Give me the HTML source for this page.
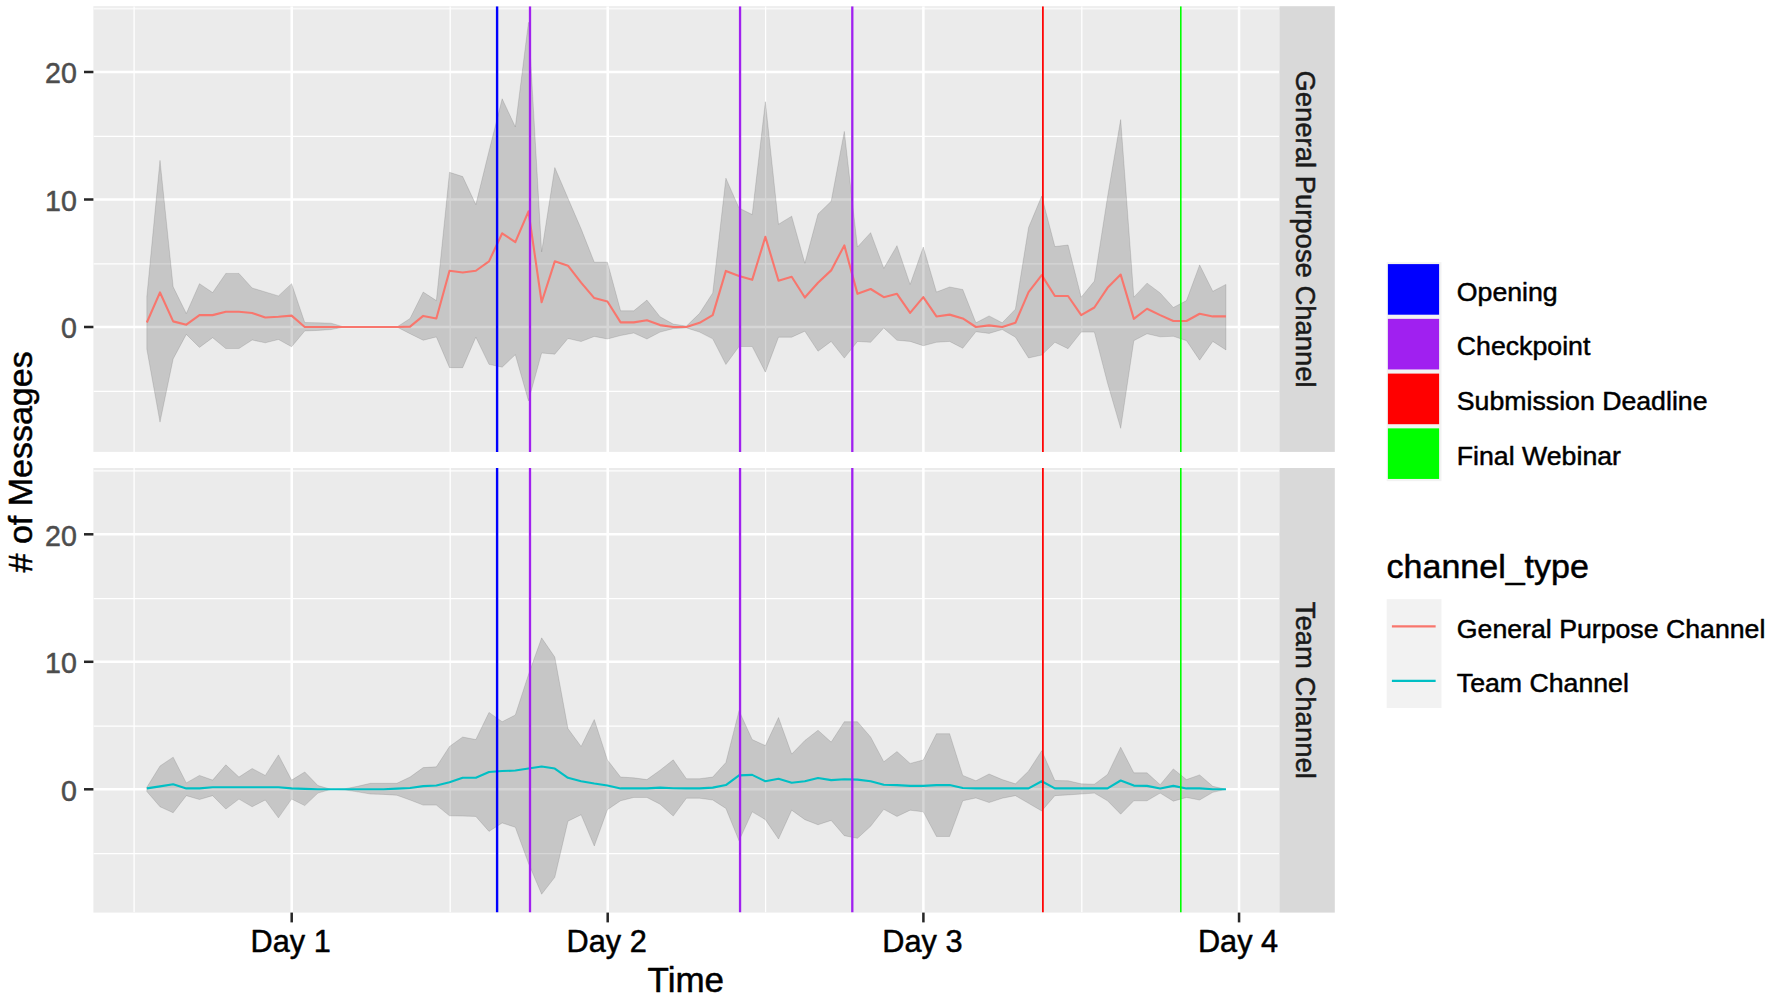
<!DOCTYPE html>
<html lang="en"><head><meta charset="utf-8"><title>Messages over time</title>
<style>html,body{margin:0;padding:0;background:#fff}body{width:1772px;height:999px;overflow:hidden}svg{display:block}</style>
</head><body>
<svg width="1772" height="999" viewBox="0 0 1772 999" font-family="Liberation Sans, Arial, sans-serif">
<style>text{stroke-width:0.5px;stroke-linejoin:round}text[fill="#000"]{stroke:#000}text[fill="#4D4D4D"]{stroke:#4D4D4D}text[fill="#1A1A1A"]{stroke:#1A1A1A}</style>
<rect width="1772" height="999" fill="#fff"/>
<clipPath id="c1"><rect x="93.4" y="6.2" width="1186" height="445.7"/></clipPath>
<rect x="93.4" y="6.2" width="1186" height="445.7" fill="#EBEBEB"/>
<g clip-path="url(#c1)">
<line x1="93.4" x2="1279.4" y1="8.65" y2="8.65" stroke="#fff" stroke-width="1.7" stroke-opacity="0.7"/>
<line x1="93.4" x2="1279.4" y1="136.35" y2="136.35" stroke="#fff" stroke-width="1.26"/>
<line x1="93.4" x2="1279.4" y1="263.85" y2="263.85" stroke="#fff" stroke-width="1.26"/>
<line x1="93.4" x2="1279.4" y1="391.35" y2="391.35" stroke="#fff" stroke-width="1.26"/>
<line x1="134.1" x2="134.1" y1="6.2" y2="451.9" stroke="#fff" stroke-width="1.26"/>
<line x1="450.2" x2="450.2" y1="6.2" y2="451.9" stroke="#fff" stroke-width="1.26"/>
<line x1="765.6" x2="765.6" y1="6.2" y2="451.9" stroke="#fff" stroke-width="1.26"/>
<line x1="1081.8" x2="1081.8" y1="6.2" y2="451.9" stroke="#fff" stroke-width="1.26"/>
<line x1="93.4" x2="1279.4" y1="72" y2="72" stroke="#fff" stroke-width="2.52"/>
<line x1="93.4" x2="1279.4" y1="199.5" y2="199.5" stroke="#fff" stroke-width="2.52"/>
<line x1="93.4" x2="1279.4" y1="327" y2="327" stroke="#fff" stroke-width="2.52"/>
<line x1="291.7" x2="291.7" y1="6.2" y2="451.9" stroke="#fff" stroke-width="2.52"/>
<line x1="607.7" x2="607.7" y1="6.2" y2="451.9" stroke="#fff" stroke-width="2.52"/>
<line x1="923.4" x2="923.4" y1="6.2" y2="451.9" stroke="#fff" stroke-width="2.52"/>
<line x1="1239.05" x2="1239.05" y1="6.2" y2="451.9" stroke="#fff" stroke-width="2.52"/>
<polygon points="146.84,296.4 160,160.36 173.16,286.84 186.32,313.49 199.48,283.65 212.64,292.57 225.8,273.45 238.96,273.45 252.12,287.99 265.28,291.94 278.44,295.89 291.6,283.65 304.76,322.54 317.92,322.79 331.08,323.18 344.24,327 357.4,327 370.56,327 383.72,327 396.88,327 410.04,318.46 423.2,292.06 436.36,300.61 449.52,172.34 462.68,176.55 475.84,204.6 489,151.05 502.16,98.78 515.32,126.83 528.48,22.28 541.64,251.77 554.8,167.62 567.96,198.22 581.12,228.82 594.28,262.23 607.44,262.23 620.6,310.81 633.76,310.81 646.92,300.1 660.08,316.8 673.24,324.07 686.4,326.11 699.56,313.36 712.72,292.96 725.88,178.21 739.04,208.04 752.2,214.55 765.36,101.71 778.52,224.24 791.68,216.2 804.84,263.25 818,214.04 831.16,201.29 844.32,131.41 857.48,247.06 870.64,232.65 883.8,268.35 896.96,245.66 910.12,284.42 923.28,247.06 936.44,292.06 949.6,286.96 962.76,289.51 975.92,322.79 989.08,315.91 1002.24,322.79 1015.4,309.15 1028.56,227.55 1041.72,196.06 1054.88,246.55 1068.04,245.02 1081.2,297.17 1094.36,281.1 1107.52,196.95 1120.68,119.56 1133.84,297.17 1147,283.14 1160.16,292.96 1173.32,307.49 1186.48,300.61 1199.64,264.91 1212.8,291.3 1225.96,284.42 1225.96,349.95 1212.8,341.41 1199.64,360.15 1186.48,340.64 1173.32,336.31 1160.16,336.82 1147,333.76 1133.84,340.64 1120.68,428.36 1107.52,383.1 1094.36,332.1 1081.2,332.1 1068.04,348.68 1054.88,342.3 1041.72,355.05 1028.56,357.98 1015.4,337.2 1002.24,329.55 989.08,333.38 975.92,331.72 962.76,348.29 949.6,341.41 936.44,342.3 923.28,345.74 910.12,341.41 896.96,340.26 883.8,327.89 870.64,342.3 857.48,341.41 844.32,358.11 831.16,341.41 818,351.23 804.84,331.21 791.68,337.2 778.52,337.2 765.36,372.13 752.2,346.51 739.04,346.51 725.88,364.49 712.72,338.86 699.56,332.1 686.4,327.89 673.24,328.66 660.08,332.1 646.92,338.99 633.76,332.99 620.6,335.54 607.44,338.99 594.28,336.44 581.12,341.54 567.96,338.48 554.8,354.16 541.64,353.01 528.48,400.95 515.32,354.67 502.16,367.16 489,364.36 475.84,337.2 462.68,367.67 449.52,367.67 436.36,336.94 423.2,340.26 410.04,333.76 396.88,327 383.72,327 370.56,327 357.4,327 344.24,327 331.08,329.55 317.92,330.44 304.76,330.95 291.6,346.76 278.44,339.5 265.28,342.81 252.12,340 238.96,348.55 225.8,348.55 212.64,337.71 199.48,347.4 186.32,334.39 173.16,358.88 160,422.12 146.84,349.31" fill="#333333" fill-opacity="0.2" stroke="#333333" stroke-opacity="0.14" stroke-width="1" stroke-linejoin="round"/>
<polyline points="146.84,322.54 160,292.45 173.16,321.39 186.32,324.7 199.48,315.14 212.64,315.14 225.8,311.7 238.96,311.7 252.12,312.98 265.28,317.56 278.44,316.8 291.6,315.65 304.76,327 317.92,327 331.08,327 344.24,327 357.4,327 370.56,327 383.72,327 396.88,327 410.04,326.62 423.2,315.91 436.36,318.46 449.52,270.77 462.68,272.43 475.84,270.77 489,261.34 502.16,233.29 515.32,242.08 528.48,211.36 541.64,302.26 554.8,261.34 567.96,265.67 581.12,282.63 594.28,298.06 607.44,301.5 620.6,322.41 633.76,322.41 646.92,320.24 660.08,325.09 673.24,327 686.4,327 699.56,322.79 712.72,315.14 725.88,270.9 739.04,276 752.2,279.82 765.36,236.86 778.52,280.72 791.68,276.76 804.84,297.55 818,282.76 831.16,270.39 844.32,245.4 857.48,293.85 870.64,289 883.8,297.17 896.96,293.85 910.12,312.85 923.28,297.17 936.44,316.42 949.6,314.63 962.76,318.46 975.92,327 989.08,325.34 1002.24,327 1015.4,322.79 1028.56,292.06 1041.72,275.11 1054.88,296.02 1068.04,296.02 1081.2,315.14 1094.36,307.49 1107.52,287.86 1120.68,274.6 1133.84,318.84 1147,308.77 1160.16,315.14 1173.32,321.01 1186.48,321.01 1199.64,313.74 1212.8,316.42 1225.96,316.42" fill="none" stroke="#F8766D" stroke-width="2.1" stroke-linejoin="round"/>
<line x1="497.1" x2="497.1" y1="6.2" y2="451.9" stroke="#0000FF" stroke-width="2.4"/>
<line x1="530.0" x2="530.0" y1="6.2" y2="451.9" stroke="#A020F0" stroke-width="2.3"/>
<line x1="740.05" x2="740.05" y1="6.2" y2="451.9" stroke="#A020F0" stroke-width="2.3"/>
<line x1="852.3" x2="852.3" y1="6.2" y2="451.9" stroke="#A020F0" stroke-width="2.3"/>
<line x1="1042.9" x2="1042.9" y1="6.2" y2="451.9" stroke="#FF0000" stroke-width="1.75"/>
<line x1="1180.8" x2="1180.8" y1="6.2" y2="451.9" stroke="#00FF00" stroke-width="1.6"/>
</g>
<line x1="84" x2="93.4" y1="72" y2="72" stroke="#262626" stroke-width="2.52"/>
<text x="76.9" y="83.3" text-anchor="end" font-size="28.6" fill="#4D4D4D">20</text>
<line x1="84" x2="93.4" y1="199.5" y2="199.5" stroke="#262626" stroke-width="2.52"/>
<text x="76.9" y="210.8" text-anchor="end" font-size="28.6" fill="#4D4D4D">10</text>
<line x1="84" x2="93.4" y1="327" y2="327" stroke="#262626" stroke-width="2.52"/>
<text x="76.9" y="338.3" text-anchor="end" font-size="28.6" fill="#4D4D4D">0</text>
<clipPath id="c2"><rect x="93.4" y="468.0" width="1186" height="444.6"/></clipPath>
<rect x="93.4" y="468.0" width="1186" height="444.6" fill="#EBEBEB"/>
<g clip-path="url(#c2)">
<line x1="93.4" x2="1279.4" y1="470.95" y2="470.95" stroke="#fff" stroke-width="1.7" stroke-opacity="0.7"/>
<line x1="93.4" x2="1279.4" y1="598.65" y2="598.65" stroke="#fff" stroke-width="1.26"/>
<line x1="93.4" x2="1279.4" y1="726.15" y2="726.15" stroke="#fff" stroke-width="1.26"/>
<line x1="93.4" x2="1279.4" y1="853.65" y2="853.65" stroke="#fff" stroke-width="1.26"/>
<line x1="134.1" x2="134.1" y1="468.0" y2="912.6" stroke="#fff" stroke-width="1.26"/>
<line x1="450.2" x2="450.2" y1="468.0" y2="912.6" stroke="#fff" stroke-width="1.26"/>
<line x1="765.6" x2="765.6" y1="468.0" y2="912.6" stroke="#fff" stroke-width="1.26"/>
<line x1="1081.8" x2="1081.8" y1="468.0" y2="912.6" stroke="#fff" stroke-width="1.26"/>
<line x1="93.4" x2="1279.4" y1="534.3" y2="534.3" stroke="#fff" stroke-width="2.52"/>
<line x1="93.4" x2="1279.4" y1="661.8" y2="661.8" stroke="#fff" stroke-width="2.52"/>
<line x1="93.4" x2="1279.4" y1="789.3" y2="789.3" stroke="#fff" stroke-width="2.52"/>
<line x1="291.7" x2="291.7" y1="468.0" y2="912.6" stroke="#fff" stroke-width="2.52"/>
<line x1="607.7" x2="607.7" y1="468.0" y2="912.6" stroke="#fff" stroke-width="2.52"/>
<line x1="923.4" x2="923.4" y1="468.0" y2="912.6" stroke="#fff" stroke-width="2.52"/>
<line x1="1239.05" x2="1239.05" y1="468.0" y2="912.6" stroke="#fff" stroke-width="2.52"/>
<polygon points="146.84,787.26 160,765.97 173.16,757.17 186.32,782.92 199.48,775.4 212.64,780.12 225.8,764.82 238.96,777.06 252.12,768.52 265.28,775.4 278.44,754.88 291.6,780.12 304.76,771.96 317.92,785.6 331.08,789.3 344.24,788.92 357.4,786.37 370.56,783.31 383.72,783.31 396.88,783.31 410.04,777.06 423.2,767.62 436.36,766.86 449.52,746.46 462.68,737.02 475.84,739.57 489,712.42 502.16,721.72 515.32,714.97 528.48,674.55 541.64,637.83 554.8,657.08 567.96,728.61 581.12,746.46 594.28,719.56 607.44,759.97 620.6,777.06 633.76,777.82 646.92,779.61 660.08,770.17 673.24,759.85 686.4,778.72 699.56,778.72 712.72,777.06 725.88,762.52 739.04,710.63 752.2,739.57 765.36,745.57 778.52,717.52 791.68,754.11 804.84,740.47 818,730.27 831.16,742.12 844.32,721.72 857.48,721.72 870.64,737.02 883.8,761.76 896.96,751.56 910.12,763.42 923.28,759.97 936.44,733.71 949.6,733.71 962.76,775.4 975.92,780.76 989.08,774 1002.24,779.61 1015.4,783.82 1028.56,771.07 1041.72,750.67 1054.88,780.5 1068.04,780.76 1081.2,783.82 1094.36,784.2 1107.52,774.51 1120.68,747.22 1133.84,772.85 1147,772.85 1160.16,784.71 1173.32,768.9 1186.48,779.61 1199.64,774.89 1212.8,786.37 1225.96,789.3 1225.96,789.3 1212.8,792.36 1199.64,800.01 1186.48,797.46 1173.32,801.16 1160.16,793.12 1147,800.77 1133.84,800.77 1120.68,814.16 1107.52,800.77 1094.36,793.12 1081.2,794.02 1068.04,794.91 1054.88,795.67 1041.72,810.97 1028.56,803.32 1015.4,795.67 1002.24,798.22 989.08,802.56 975.92,797.97 962.76,800.77 949.6,836.47 936.44,836.47 923.28,811.87 910.12,810.21 896.96,816.46 883.8,809.32 870.64,826.27 857.48,838.26 844.32,835.71 831.16,820.41 818,824.75 804.84,819.64 791.68,810.21 778.52,839.02 765.36,819.64 752.2,811.87 739.04,840.81 725.88,808.42 712.72,800.01 699.56,798.22 686.4,798.22 673.24,816.07 660.08,804.22 646.92,797.46 633.76,797.46 620.6,800.77 607.44,809.7 594.28,846.04 581.12,814.8 567.96,821.17 554.8,877.27 541.64,894.23 528.48,863.25 515.32,827.29 502.16,822.96 489,831.38 475.84,816.46 462.68,816.07 449.52,815.82 436.36,805.11 423.2,805.11 410.04,800.01 396.88,795.29 383.72,794.4 370.56,794.02 357.4,791.85 344.24,789.81 331.08,789.3 317.92,793.12 304.76,805.62 291.6,799.12 278.44,817.86 265.28,800.01 252.12,806.77 238.96,799.12 225.8,809.06 212.64,795.67 199.48,799.5 186.32,795.67 173.16,812.76 160,806.77 146.84,791.47" fill="#333333" fill-opacity="0.2" stroke="#333333" stroke-opacity="0.14" stroke-width="1" stroke-linejoin="round"/>
<polyline points="146.84,788.41 160,786.37 173.16,784.33 186.32,788.41 199.48,788.41 212.64,787.26 225.8,787.26 238.96,787.26 252.12,787.26 265.28,787.26 278.44,787.26 291.6,788.41 304.76,788.92 317.92,789.3 331.08,789.3 344.24,789.3 357.4,789.3 370.56,789.3 383.72,789.3 396.88,788.66 410.04,788.02 423.2,786.11 436.36,785.47 449.52,782.16 462.68,777.82 475.84,777.82 489,771.96 502.16,771.07 515.32,770.56 528.48,768.52 541.64,766.48 554.8,768.52 567.96,777.82 581.12,781.27 594.28,783.56 607.44,785.47 620.6,788.41 633.76,788.41 646.92,788.41 660.08,787.64 673.24,788.28 686.4,788.41 699.56,788.41 712.72,787.64 725.88,785.09 739.04,775.4 752.2,774.89 765.36,781.27 778.52,778.72 791.68,782.67 804.84,781.27 818,777.95 831.16,780.12 844.32,779.23 857.48,779.61 870.64,781.27 883.8,784.71 896.96,785.09 910.12,785.86 923.28,785.86 936.44,785.09 949.6,785.09 962.76,788.02 975.92,788.41 989.08,788.41 1002.24,788.41 1015.4,788.41 1028.56,788.41 1041.72,781.27 1054.88,788.41 1068.04,788.41 1081.2,788.41 1094.36,788.41 1107.52,788.41 1120.68,780.5 1133.84,785.6 1147,785.86 1160.16,788.41 1173.32,785.86 1186.48,788.41 1199.64,788.41 1212.8,789.3 1225.96,789.3" fill="none" stroke="#00BFC4" stroke-width="2.1" stroke-linejoin="round"/>
<line x1="497.1" x2="497.1" y1="468.0" y2="912.6" stroke="#0000FF" stroke-width="2.4"/>
<line x1="530.0" x2="530.0" y1="468.0" y2="912.6" stroke="#A020F0" stroke-width="2.3"/>
<line x1="740.05" x2="740.05" y1="468.0" y2="912.6" stroke="#A020F0" stroke-width="2.3"/>
<line x1="852.3" x2="852.3" y1="468.0" y2="912.6" stroke="#A020F0" stroke-width="2.3"/>
<line x1="1042.9" x2="1042.9" y1="468.0" y2="912.6" stroke="#FF0000" stroke-width="1.75"/>
<line x1="1180.8" x2="1180.8" y1="468.0" y2="912.6" stroke="#00FF00" stroke-width="1.6"/>
</g>
<line x1="84" x2="93.4" y1="534.3" y2="534.3" stroke="#262626" stroke-width="2.52"/>
<text x="76.9" y="545.6" text-anchor="end" font-size="28.6" fill="#4D4D4D">20</text>
<line x1="84" x2="93.4" y1="661.8" y2="661.8" stroke="#262626" stroke-width="2.52"/>
<text x="76.9" y="673.1" text-anchor="end" font-size="28.6" fill="#4D4D4D">10</text>
<line x1="84" x2="93.4" y1="789.3" y2="789.3" stroke="#262626" stroke-width="2.52"/>
<text x="76.9" y="800.6" text-anchor="end" font-size="28.6" fill="#4D4D4D">0</text>
<rect x="1279.4" y="6.2" width="55.4" height="445.7" fill="#D9D9D9"/><text transform="translate(1295.6,229.05) rotate(90)" text-anchor="middle" font-size="27.45" fill="#1A1A1A">General Purpose Channel</text>
<rect x="1279.4" y="468.0" width="55.4" height="444.6" fill="#D9D9D9"/><text transform="translate(1295.6,690.3) rotate(90)" text-anchor="middle" font-size="27.45" fill="#1A1A1A">Team Channel</text>
<line x1="291.7" x2="291.7" y1="912.6" y2="922.4" stroke="#262626" stroke-width="2.52"/>
 <text x="290.7" y="952.3" text-anchor="middle" font-size="30.7" fill="#000">Day 1</text>
<line x1="607.7" x2="607.7" y1="912.6" y2="922.4" stroke="#262626" stroke-width="2.52"/>
 <text x="606.7" y="952.3" text-anchor="middle" font-size="30.7" fill="#000">Day 2</text>
<line x1="923.4" x2="923.4" y1="912.6" y2="922.4" stroke="#262626" stroke-width="2.52"/>
 <text x="922.4" y="952.3" text-anchor="middle" font-size="30.7" fill="#000">Day 3</text>
<line x1="1239.05" x2="1239.05" y1="912.6" y2="922.4" stroke="#262626" stroke-width="2.52"/>
 <text x="1238.05" y="952.3" text-anchor="middle" font-size="30.7" fill="#000">Day 4</text>
<text x="685.8" y="992.1" text-anchor="middle" font-size="35" fill="#000">Time</text>
<text transform="translate(31.7,461.9) rotate(-90)" text-anchor="middle" font-size="34" fill="#000"># of Messages</text>
<rect x="1386.7" y="262.2" width="54.75" height="219" fill="#F2F2F2"/>
<rect x="1387.9" y="264.1" width="51.2" height="50.6" fill="#0000FF"/>
<text x="1456.8" y="300.57" font-size="26.7" fill="#000">Opening</text>
<rect x="1387.9" y="318.85" width="51.2" height="50.6" fill="#A020F0"/>
<text x="1456.8" y="355.32" font-size="26.7" fill="#000">Checkpoint</text>
<rect x="1387.9" y="373.6" width="51.2" height="50.6" fill="#FF0000"/>
<text x="1456.8" y="410.07" font-size="26.7" fill="#000">Submission Deadline</text>
<rect x="1387.9" y="428.35" width="51.2" height="50.6" fill="#00FF00"/>
<text x="1456.8" y="464.82" font-size="26.7" fill="#000">Final Webinar</text>
<text x="1386.6" y="578.2" font-size="34" fill="#000">channel_type</text>
<rect x="1386.7" y="599.2" width="54.75" height="108.8" fill="#F2F2F2"/>
<line x1="1391.9" x2="1435.65" y1="626.4" y2="626.4" stroke="#F8766D" stroke-width="2.3"/>
<text x="1456.8" y="637.5" font-size="26.7" fill="#000">General Purpose Channel</text>
<line x1="1391.9" x2="1435.65" y1="680.8" y2="680.8" stroke="#00BFC4" stroke-width="2.3"/>
<text x="1456.8" y="691.9" font-size="26.7" fill="#000">Team Channel</text>
</svg>
</body></html>
